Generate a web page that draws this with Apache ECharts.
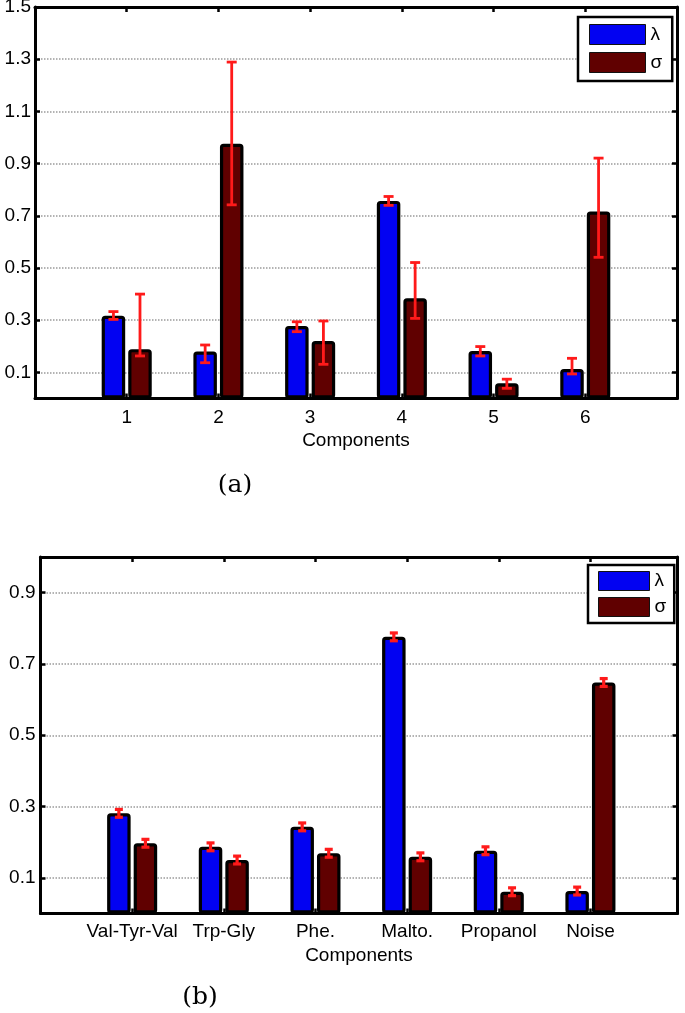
<!DOCTYPE html>
<html><head><meta charset="utf-8">
<script src="https://cdn.jsdelivr.net/npm/echarts@6/dist/echarts.min.js"></script>
<style>html,body{margin:0;padding:0;background:#fff}#c{width:685px;height:1013px}</style>
</head><body><div id="c"></div>
<script>
// ---------- panel (a) ----------
const catsA = ['1', '2', '3', '4', '5', '6'];
const lambdaA    = [0.317, 0.180, 0.278, 0.757, 0.182, 0.113];
const lambdaA_lo = [0.303, 0.137, 0.256, 0.740, 0.163, 0.094];
const lambdaA_hi = [0.333, 0.205, 0.294, 0.774, 0.199, 0.154];
const sigmaA     = [0.189, 0.976, 0.220, 0.384, 0.058, 0.716];
const sigmaA_lo  = [0.163, 0.742, 0.131, 0.307, 0.039, 0.541];
const sigmaA_hi  = [0.400, 1.289, 0.297, 0.521, 0.074, 0.921];
const ticksA = [0.1, 0.3, 0.5, 0.7, 0.9, 1.1, 1.3, 1.5];
const yMaxA = 1.5;
const xMaxA = 7;

// ---------- panel (b) ----------
const catsB = ['Val-Tyr-Val', 'Trp-Gly', 'Phe.', 'Malto.', 'Propanol', 'Noise'];
const lambdaB    = [0.281, 0.187, 0.243, 0.776, 0.176, 0.063];
const lambdaB_lo = [0.270, 0.176, 0.232, 0.765, 0.165, 0.052];
const lambdaB_hi = [0.292, 0.198, 0.254, 0.787, 0.187, 0.074];
const sigmaB     = [0.197, 0.150, 0.169, 0.159, 0.061, 0.648];
const sigmaB_lo  = [0.186, 0.139, 0.158, 0.148, 0.050, 0.637];
const sigmaB_hi  = [0.208, 0.161, 0.180, 0.170, 0.072, 0.659];
const ticksB = [0.1, 0.3, 0.5, 0.7, 0.9];
const yMaxB = 1.0;
const xMaxB = 6.95;

const catPositions = [1, 2, 3, 4, 5, 6];
const seriesNames = ['\u03bb', '\u03c3'];
const xName = 'Components';

// ---------- style ----------
const BLUE = '#0202F2', DARKRED = '#600000', RED = '#FF1A1A';
const BAR_W = 23.5, GAP_RATIO = 0.13;
const OFF = (BAR_W + BAR_W * GAP_RATIO) / 2;
const FONT = 'Liberation Sans';
const axisLineStyle = { color: '#000', width: 3 };
const tickStyle = { color: '#000', width: 2.5 };

function errRender(sign, half, lw) {
  return function (params, api) {
    const xv = api.value(0);
    const x = api.coord([xv, 0])[0] + sign * OFF;
    const yLo = api.coord([xv, api.value(1)])[1];
    const yHi = api.coord([xv, api.value(2)])[1];
    const st = { stroke: RED, lineWidth: lw };
    return { type: 'group', children: [
      { type: 'line', shape: { x1: x, y1: yLo, x2: x, y2: yHi }, style: st },
      { type: 'line', shape: { x1: x - half, y1: yHi, x2: x + half, y2: yHi }, style: st },
      { type: 'line', shape: { x1: x - half, y1: yLo, x2: x + half, y2: yLo }, style: st }
    ]};
  };
}

const option = {
  animation: false,
  backgroundColor: '#fff',
  grid: [
    { left: 35, top: 7, right: 8, bottom: 614.5, outerBoundsMode: 'none' },
    { left: 40.5, top: 557, right: 7.5, bottom: 99.5, outerBoundsMode: 'none' }
  ],
  xAxis: [], yAxis: [], series: [], legend: [],
  graphic: [
    { type: 'text', x: 235, y: 485, style: { text: '(a)', font: '25px "DejaVu Serif"', fill: '#000', textAlign: 'center', textVerticalAlign: 'middle', align: 'center', verticalAlign: 'middle' } },
    { type: 'text', x: 200, y: 997, style: { text: '(b)', font: '25px "DejaVu Serif"', fill: '#000', textAlign: 'center', textVerticalAlign: 'middle', align: 'center', verticalAlign: 'middle' } }
  ]
};

function addPanel(gi, cats, lam, lamLo, lamHi, sig, sigLo, sigHi, ticks, ymax, xmax, legendCfg, cap, capLw, lblMargin, yMargin) {
  const xb = option.xAxis.length;
  const catLabel = function (v) {
    const i = catPositions.indexOf(Math.round(v));
    return i >= 0 && Math.abs(v - catPositions[i]) < 1e-6 ? cats[i] : '';
  };
  option.xAxis.push({
    type: 'value', gridIndex: gi, min: 0, max: xmax, position: 'bottom',
    axisLine: { show: true, onZero: false, lineStyle: axisLineStyle },
    axisTick: { show: true, inside: true, length: 5, customValues: catPositions, lineStyle: tickStyle },
    axisLabel: { customValues: catPositions, formatter: catLabel, color: '#000', fontSize: 19, fontFamily: FONT, margin: lblMargin },
    splitLine: { show: false },
    name: xName, nameLocation: 'middle', nameGap: 33,
    nameTextStyle: { color: '#000', fontSize: 19, fontFamily: FONT }
  });
  option.xAxis.push({
    type: 'value', gridIndex: gi, min: 0, max: xmax, position: 'top',
    axisLine: { show: true, onZero: false, lineStyle: axisLineStyle },
    axisTick: { show: true, inside: true, length: 5, customValues: catPositions, lineStyle: tickStyle },
    axisLabel: { show: false }, splitLine: { show: false }
  });
  const yl = option.yAxis.length;
  option.yAxis.push({
    type: 'value', gridIndex: gi, min: 0, max: ymax, position: 'left',
    axisLine: { show: true, onZero: false, lineStyle: axisLineStyle },
    axisTick: { show: true, inside: true, length: 5, customValues: ticks, lineStyle: tickStyle },
    axisLabel: { customValues: ticks, formatter: function (v) { return v.toFixed(1); }, color: '#000', fontSize: 19, fontFamily: FONT, margin: yMargin },
    splitLine: { show: true, lineStyle: { type: 'dotted', color: '#9a9a9a', width: 1.5 } }
  });
  option.yAxis.push({
    type: 'value', gridIndex: gi, min: 0, max: ymax, position: 'right',
    axisLine: { show: true, onZero: false, lineStyle: axisLineStyle },
    axisTick: { show: true, inside: true, length: 5, customValues: ticks, lineStyle: tickStyle },
    axisLabel: { show: false }, splitLine: { show: false }
  });
  const barCommon = { type: 'bar', xAxisIndex: xb, yAxisIndex: yl, barWidth: BAR_W, barGap: (GAP_RATIO * 100) + '%', z: 2 };
  option.series.push(Object.assign({}, barCommon, {
    name: seriesNames[0], data: lam.map(function (v, i) { return [catPositions[i], v]; }),
    itemStyle: { color: BLUE, borderColor: '#000', borderWidth: 3.2, borderRadius: 2 }
  }));
  option.series.push(Object.assign({}, barCommon, {
    name: seriesNames[1], data: sig.map(function (v, i) { return [catPositions[i], v]; }),
    itemStyle: { color: DARKRED, borderColor: '#000', borderWidth: 3.2, borderRadius: 2 }
  }));
  option.series.push({
    type: 'custom', xAxisIndex: xb, yAxisIndex: yl, z: 5, silent: true,
    data: lam.map(function (v, i) { return [catPositions[i], lamLo[i], lamHi[i]]; }),
    encode: { x: 0, y: [1, 2] }, renderItem: errRender(-1, cap, capLw)
  });
  option.series.push({
    type: 'custom', xAxisIndex: xb, yAxisIndex: yl, z: 5, silent: true,
    data: sig.map(function (v, i) { return [catPositions[i], sigLo[i], sigHi[i]]; }),
    encode: { x: 0, y: [1, 2] }, renderItem: errRender(1, cap, capLw)
  });
  option.legend.push(Object.assign({
    data: seriesNames, orient: 'vertical', icon: 'rect',
    backgroundColor: '#fff', borderColor: '#000', borderWidth: 2.5, borderRadius: 0,
    itemStyle: { borderWidth: 1, borderColor: '#111' },
    textStyle: { color: '#000', fontSize: 19, fontFamily: FONT },
    selectedMode: false
  }, legendCfg));
}

addPanel(0, catsA, lambdaA, lambdaA_lo, lambdaA_hi, sigmaA, sigmaA_lo, sigmaA_hi, ticksA, yMaxA, xMaxA,
  { left: 578, top: 17, itemWidth: 56, itemHeight: 20, itemGap: 7, padding: [7, 10, 8, 11] }, 5, 2.8, 10, 4);
addPanel(1, catsB, lambdaB, lambdaB_lo, lambdaB_hi, sigmaB, sigmaB_lo, sigmaB_hi, ticksB, yMaxB, xMaxB,
  { left: 588, top: 565, itemWidth: 51, itemHeight: 19, itemGap: 6, padding: [6, 8, 6, 10] }, 4, 3.2, 9, 5);

const chart = echarts.init(document.getElementById('c'), null, { renderer: 'canvas' });
chart.setOption(option);
</script></body></html>
